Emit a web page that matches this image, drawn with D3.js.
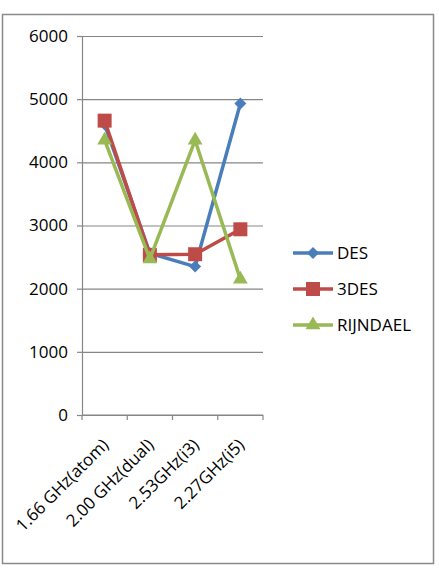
<!DOCTYPE html>
<html>
<head>
<meta charset="utf-8">
<script src="https://cdn.jsdelivr.net/npm/d3@7"></script>
<style>
  body { margin: 0; background: #fff; }
  text { font-family: "Open Sans", "Noto Sans", sans-serif; fill: #000; }
</style>
</head>
<body>
<div id="chart"></div>
<script>
// data
var categories = ["1.66 GHz(atom)", "2.00 GHz(dual)", "2.53GHz(i3)", "2.27GHz(i5)"];
var desValues = [4600, 2560, 2350, 4930];
var tdesValues = [4660, 2535, 2545, 2940];
var rijndaelValues = [4350, 2470, 4350, 2150];
var yTicks = [0, 1000, 2000, 3000, 4000, 5000, 6000];

// excel style diamond: a square turned 45 degrees
var diamond = {
  draw: function (context, size) {
    var r = Math.sqrt(size / 2);
    context.moveTo(0, -r);
    context.lineTo(r, 0);
    context.lineTo(0, r);
    context.lineTo(-r, 0);
    context.closePath();
  }
};

var series = [
  { name: "DES", values: desValues, color: "#4a7ebb", symbol: diamond, size: 72 },
  { name: "3DES", values: tdesValues, color: "#be4b48", symbol: d3.symbolSquare, size: 196 },
  { name: "RIJNDAEL", values: rijndaelValues, color: "#98b954", symbol: d3.symbolTriangle, size: 95 }
];

var width = 439, height = 569;
var plot = { left: 82, right: 263, top: 36, bottom: 415 };

var svg = d3.select("#chart").append("svg")
  .attr("width", width)
  .attr("height", height);

// outer frame
svg.append("rect")
  .attr("x", 2.5).attr("y", 14.5)
  .attr("width", 431).attr("height", 549)
  .attr("fill", "#fff")
  .attr("stroke", "#8a8a8a")
  .attr("stroke-width", 1.5);

var x = d3.scaleBand().domain(categories).range([plot.left, plot.right]);
var y = d3.scaleLinear().domain([0, 6000]).range([plot.bottom, plot.top]);

// y axis with gridlines
var yAxis = d3.axisLeft(y).tickValues(yTicks).tickFormat(d3.format("d"))
  .tickSize(5).tickPadding(9);
svg.append("g")
  .attr("transform", "translate(" + plot.left + ",0)")
  .call(yAxis)
  .call(function (g) { g.select(".domain").attr("stroke", "#868686").attr("stroke-width", 1.2); })
  .call(function (g) {
    g.selectAll(".tick line").attr("stroke", "#868686").attr("stroke-width", 1.2);
    g.selectAll(".tick line").clone()
      .attr("x1", 0)
      .attr("x2", plot.right - plot.left)
      .attr("stroke", "#868686")
      .attr("stroke-width", 1.2);
    g.selectAll(".tick text")
      .style("font-size", "17px")
      .style("font-family", "'Open Sans', sans-serif")
      .attr("fill", "#000");
  });

// x axis, tick marks between categories
var xAxis = svg.append("g").attr("transform", "translate(0," + plot.bottom + ")");
xAxis.append("line")
  .attr("x1", plot.left).attr("x2", plot.right)
  .attr("stroke", "#868686").attr("stroke-width", 1.2);
xAxis.selectAll(".xtick")
  .data(categories.concat([null]))
  .join("line")
  .attr("class", "xtick")
  .attr("x1", function (d, i) { return plot.left + i * x.step(); })
  .attr("x2", function (d, i) { return plot.left + i * x.step(); })
  .attr("y1", 0).attr("y2", 5)
  .attr("stroke", "#868686").attr("stroke-width", 1.2);
xAxis.selectAll(".xlabel")
  .data(categories)
  .join("text")
  .attr("class", "xlabel")
  .attr("text-anchor", "end")
  .attr("transform", function (d) {
    return "translate(" + (x(d) + x.bandwidth() / 2 + 5) + ",31) rotate(-45)";
  })
  .style("font-size", "17px")
  .text(function (d) { return d; });

// lines and markers
var line = d3.line()
  .x(function (d, i) { return x(categories[i]) + x.bandwidth() / 2; })
  .y(function (d) { return y(d); });

series.forEach(function (s) {
  svg.append("path")
    .datum(s.values)
    .attr("fill", "none")
    .attr("stroke", s.color)
    .attr("stroke-width", 3.5)
    .attr("stroke-linejoin", "round")
    .attr("d", line);
  svg.selectAll(null)
    .data(s.values)
    .join("path")
    .attr("transform", function (d, i) {
      return "translate(" + (x(categories[i]) + x.bandwidth() / 2) + "," + y(d) + ")";
    })
    .attr("d", d3.symbol().type(s.symbol).size(s.size))
    .attr("fill", s.color);
});

// legend
var legend = svg.append("g").attr("transform", "translate(293,253)");
var items = legend.selectAll("g")
  .data(series)
  .join("g")
  .attr("transform", function (d, i) { return "translate(0," + i * 36 + ")"; });
items.append("line")
  .attr("x1", 0).attr("x2", 40)
  .attr("stroke", function (d) { return d.color; })
  .attr("stroke-width", 3.5);
items.append("path")
  .attr("transform", "translate(20,0)")
  .attr("d", function (d) { return d3.symbol().type(d.symbol).size(d.size)(); })
  .attr("fill", function (d) { return d.color; });
items.append("text")
  .attr("x", 44)
  .attr("dy", "0.35em")
  .style("font-size", "17px")
  .text(function (d) { return d.name; });
</script>
</body>
</html>
